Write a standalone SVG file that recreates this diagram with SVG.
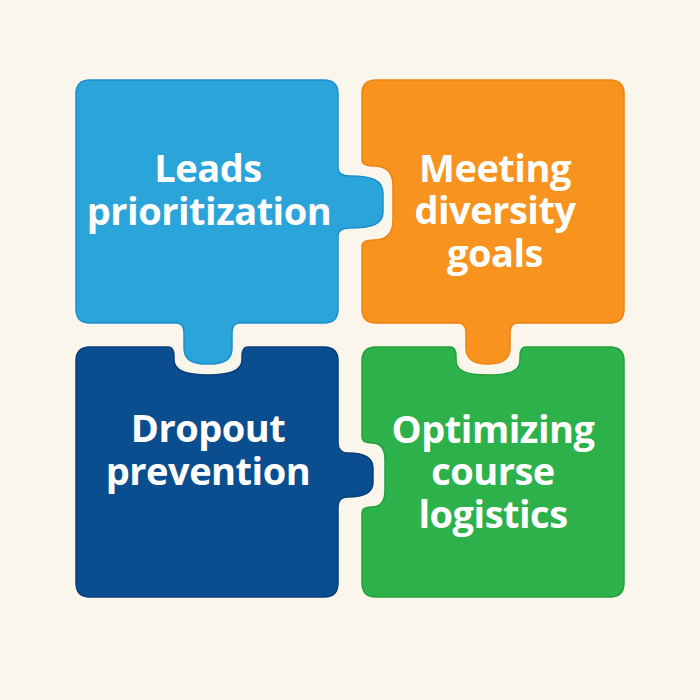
<svg xmlns="http://www.w3.org/2000/svg" width="700" height="700" viewBox="0 0 700 700">
  <style>
    .lbl { font-family: "Open Sans", Lato, "Liberation Sans", sans-serif; font-weight: 700; font-size: 38px; letter-spacing: -0.5px; fill: #ffffff; text-anchor: middle; }
    .piece { stroke-width: 1.5; }
  </style>
  <rect x="0" y="0" width="700" height="700" fill="#FAF6EB"/>
  <g id="leads">
    <path class="piece" fill="#2BA4DA" stroke="#1E8FCB" d="M 90 80 H 324 Q 338 80 338 94 V 168 C 338 173 342 176 350 176 C 372 176 383 180 383 194 V 212 C 383 224 372 228 350 228 C 342 228 338 231 338 236 V 309 Q 338 323 324 323 H 240 C 235 323 232 326 232 333 V 348 C 232 360 224 364 208 364 C 192 364 184 360 184 348 V 333 C 184 326 181 323 176 323 H 90 Q 76 323 76 309 V 94 Q 76 80 90 80 Z"/>
    <text class="lbl" x="208" y="182">Leads</text>
    <text class="lbl" x="209" y="225">prioritization</text>
  </g>
  <g id="diversity">
    <path class="piece" fill="#F7931E" stroke="#EE8412" d="M 376 80 H 610 Q 624 80 624 94 V 309 Q 624 323 610 323 H 518 C 513 323 510 326 510 333 V 348 C 510 360 502 364 488 364 C 474 364 466 360 466 348 V 333 C 466 326 463 323 458 323 H 376 Q 362 323 362 309 V 246 C 362 242 366 240 374 240 C 386 240 393 234 393 220 V 186 C 393 172 386 166 374 166 C 366 166 362 164 362 160 V 94 Q 362 80 376 80 Z"/>
    <text class="lbl" x="495" y="182">Meeting</text>
    <text class="lbl" x="495" y="224">diversity</text>
    <text class="lbl" x="495" y="267">goals</text>
  </g>
  <g id="dropout">
    <path class="piece" fill="#0A4E8F" stroke="#083E7A" d="M 90 347 H 168 C 172 347 174 350 174 356 V 360 C 174 371 186 375 208 375 C 230 375 242 371 242 360 V 356 C 242 350 244 347 248 347 H 324 Q 338 347 338 361 V 443 C 338 448 341 453 348 453 C 364 453 373 457 373 468 V 482 C 373 493 364 497 348 497 C 341 497 338 501 338 507 V 583 Q 338 597 324 597 H 90 Q 76 597 76 583 V 361 Q 76 347 90 347 Z"/>
    <text class="lbl" x="208" y="442">Dropout</text>
    <text class="lbl" x="208" y="485">prevention</text>
  </g>
  <g id="logistics">
    <path class="piece" fill="#2DB14A" stroke="#23A03E" d="M 376 347 H 450 C 454 347 456 350 456 356 V 360 C 456 371 466 375 488 375 C 510 375 520 371 520 360 V 356 C 520 350 522 347 526 347 H 610 Q 624 347 624 361 V 583 Q 624 597 610 597 H 376 Q 362 597 362 583 V 513 C 362 509 365 507 372 507 C 381 507 385 501 385 490 V 460 C 385 449 381 443 372 443 C 365 443 362 441 362 437 V 361 Q 362 347 376 347 Z"/>
    <text class="lbl" x="493" y="443">Optimizing</text>
    <text class="lbl" x="493" y="485">course</text>
    <text class="lbl" x="493" y="528">logistics</text>
  </g>
  <g id="connectors"/>
</svg>
